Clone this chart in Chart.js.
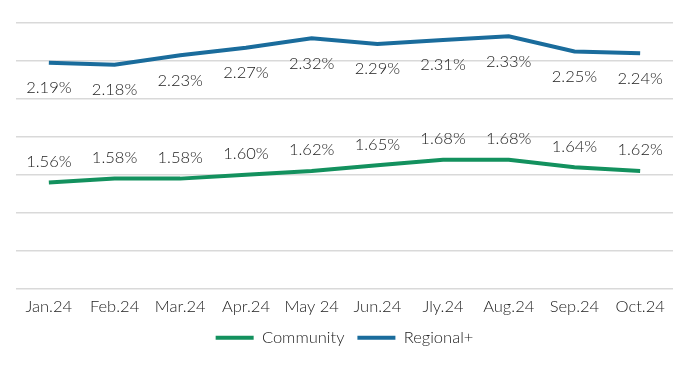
<!DOCTYPE html>
<html>
<head>
<meta charset="utf-8">
<script src="https://cdn.jsdelivr.net/npm/chart.js@4"></script>
<style>
  html, body { margin: 0; padding: 0; background: #fff; }
  #wrap { width: 700px; height: 372px; }
</style>
</head>
<body>
<div id="wrap"><canvas id="rateChart"></canvas></div>
<script>
const months = ['Jan.24', 'Feb.24', 'Mar.24', 'Apr.24', 'May 24', 'Jun.24', 'Jly.24', 'Aug.24', 'Sep.24', 'Oct.24'];
const community = [1.56, 1.58, 1.58, 1.60, 1.62, 1.65, 1.68, 1.68, 1.64, 1.62];
const regional = [2.19, 2.18, 2.23, 2.27, 2.32, 2.29, 2.31, 2.33, 2.25, 2.24];

// draws value labels above/below each point
const pointLabels = {
  id: 'pointLabels',
  afterDatasetsDraw(chart) {
    const ctx = chart.ctx;
    ctx.save();
    ctx.font = '300 16.5px Lato, sans-serif';
    ctx.fillStyle = '#222';
    ctx.textAlign = 'center';
    ctx.textBaseline = 'middle';
    chart.data.datasets.forEach((ds, i) => {
      const meta = chart.getDatasetMeta(i);
      meta.data.forEach((pt, j) => {
        ctx.fillText(ds.data[j].toFixed(2) + '%', pt.x, pt.y + ds.labelOffset);
      });
    });
    ctx.restore();
  }
};

const ctx = document.getElementById('rateChart').getContext('2d');
new Chart(ctx, {
  type: 'line',
  data: {
    labels: months,
    datasets: [
      {
        label: 'Community',
        data: community,
        borderColor: '#13915e',
        backgroundColor: '#13915e',
        borderWidth: 4,
        pointRadius: 0,
        tension: 0,
        labelOffset: -21
      },
      {
        label: 'Regional+',
        data: regional,
        borderColor: '#1a6c9c',
        backgroundColor: '#1a6c9c',
        borderWidth: 4,
        pointRadius: 0,
        tension: 0,
        labelOffset: 25
      }
    ]
  },
  options: {
    responsive: true,
    maintainAspectRatio: false,
    animation: false,
    layout: { padding: { left: 16, right: 27, top: 23, bottom: 16 } },
    plugins: {
      tooltip: { enabled: false },
      legend: {
        position: 'bottom',
        labels: {
          usePointStyle: true,
          pointStyle: 'line',
          pointStyleWidth: 38,
          color: '#222',
          font: { family: 'Lato', size: 16.5, weight: '300' },
          padding: 13
        }
      }
    },
    scales: {
      x: {
        offset: true,
        grid: { display: false },
        border: { display: false },
        ticks: { color: '#222', font: { family: 'Lato', size: 16.5, weight: '300' }, padding: 0, maxRotation: 0 }
      },
      y: {
        min: 1.0,
        max: 2.4,
        grid: { color: '#d9d9d9', lineWidth: 1.5, drawTicks: false },
        border: { display: false },
        ticks: { display: false, stepSize: 0.2 }
      }
    }
  },
  plugins: [pointLabels]
});
</script>
</body>
</html>
